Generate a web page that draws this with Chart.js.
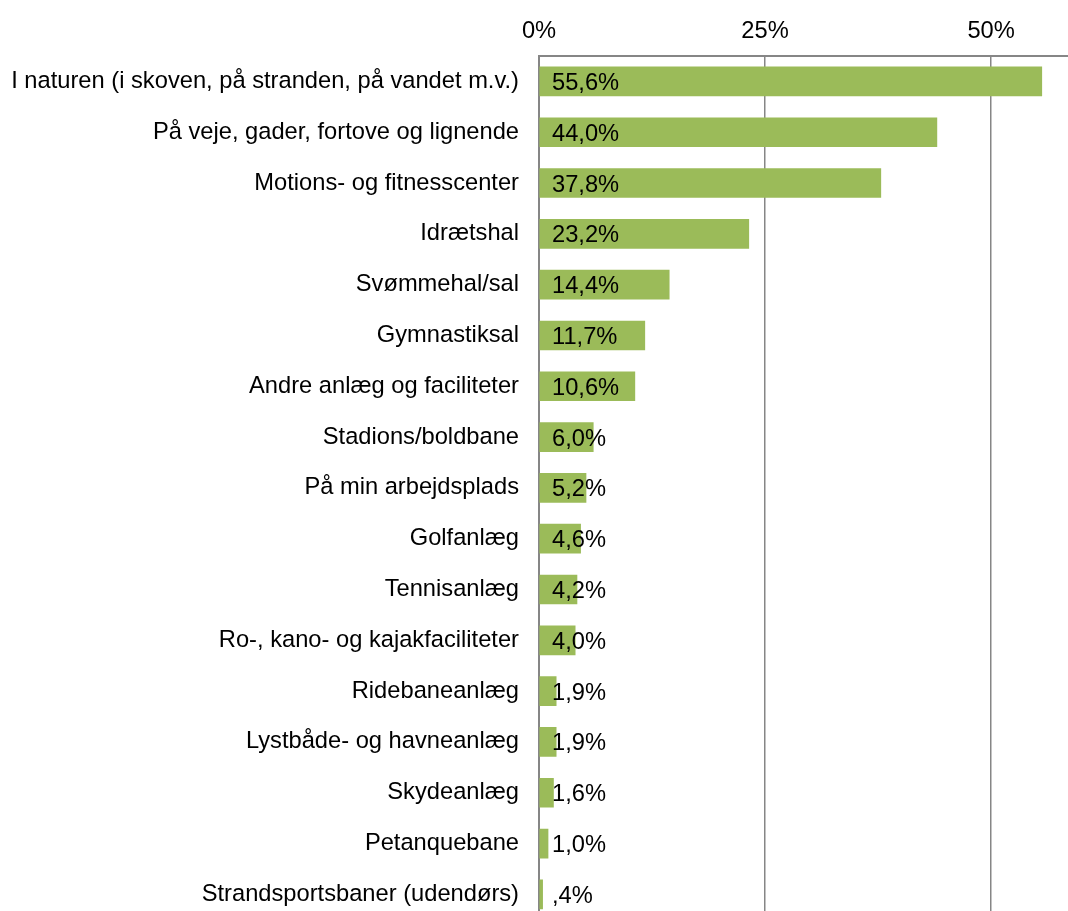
<!DOCTYPE html>
<html>
<head>
<meta charset="utf-8">
<script src="https://cdn.jsdelivr.net/npm/chart.js@4/dist/chart.umd.min.js"></script>
<style>
  html, body { margin: 0; padding: 0; background: #fff; overflow: hidden; }
  #wrap { width: 1068px; height: 954px; }
</style>
</head>
<body>
<div id="wrap"><canvas id="chart" width="1068" height="954"></canvas></div>
<script>
// categories, top to bottom
const categories = [
  'I naturen (i skoven, på stranden, på vandet m.v.)',
  'På veje, gader, fortove og lignende',
  'Motions- og fitnesscenter',
  'Idrætshal',
  'Svømmehal/sal',
  'Gymnastiksal',
  'Andre anlæg og faciliteter',
  'Stadions/boldbane',
  'På min arbejdsplads',
  'Golfanlæg',
  'Tennisanlæg',
  'Ro-, kano- og kajakfaciliteter',
  'Ridebaneanlæg',
  'Lystbåde- og havneanlæg',
  'Skydeanlæg',
  'Petanquebane',
  'Strandsportsbaner (udendørs)'
];
const values = [55.6, 44.0, 37.8, 23.2, 14.4, 11.7, 10.6, 6.0, 5.2, 4.6, 4.2, 4.0, 1.9, 1.9, 1.6, 1.0, 0.4];
const valueLabels = ['55,6%', '44,0%', '37,8%', '23,2%', '14,4%', '11,7%', '10,6%', '6,0%', '5,2%',
  '4,6%', '4,2%', '4,0%', '1,9%', '1,9%', '1,6%', '1,0%', ',4%'];
const tickValues = [0, 25, 50];

const FONT = 'Liberation Sans, Arial, sans-serif';
const FSIZE = 23.7;
const AXIS_GREY = '#868686';

// value labels drawn at the inner left of each bar
const insideLabels = {
  id: 'insideLabels',
  afterDatasetsDraw(chart) {
    const c = chart.ctx;
    const x0 = chart.scales.x.getPixelForValue(0);
    const meta = chart.getDatasetMeta(0);
    c.save();
    c.font = FSIZE + 'px ' + FONT;
    c.fillStyle = '#000';
    c.textAlign = 'left';
    c.textBaseline = 'middle';
    meta.data.forEach((bar, i) => {
      c.fillText(valueLabels[i], x0 + 13, bar.y + 2);
    });
    c.restore();
  }
};

new Chart(document.getElementById('chart'), {
  type: 'bar',
  data: {
    labels: categories,
    datasets: [{
      data: values,
      backgroundColor: '#9BBB59',
      borderWidth: 0,
      barThickness: 29
    }]
  },
  options: {
    indexAxis: 'y',
    responsive: false,
    animation: false,
    layout: { padding: 0 },
    plugins: { legend: { display: false }, tooltip: { enabled: false } },
    scales: {
      x: {
        position: 'top',
        min: 0,
        max: 58.5,
        afterBuildTicks: s => { s.ticks = tickValues.map(v => ({ value: v })); },
        afterFit: s => { s.height = 56; },
        border: { display: true, color: AXIS_GREY, width: 2 },
        grid: {
          color: ctx => ctx.tick && ctx.tick.value === 0 ? 'rgba(0,0,0,0)' : AXIS_GREY,
          lineWidth: 1.5,
          drawTicks: false
        },
        ticks: {
          color: '#000',
          font: { size: FSIZE, family: FONT },
          padding: 10,
          callback: v => v + '%'
        }
      },
      y: {
        afterFit: s => { s.width = 539; },
        border: { display: true, color: AXIS_GREY, width: 2 },
        grid: { display: false, drawTicks: false },
        ticks: {
          color: '#000',
          font: { size: FSIZE, family: FONT },
          padding: 20
        }
      }
    }
  },
  plugins: [insideLabels]
});
</script>
</body>
</html>
